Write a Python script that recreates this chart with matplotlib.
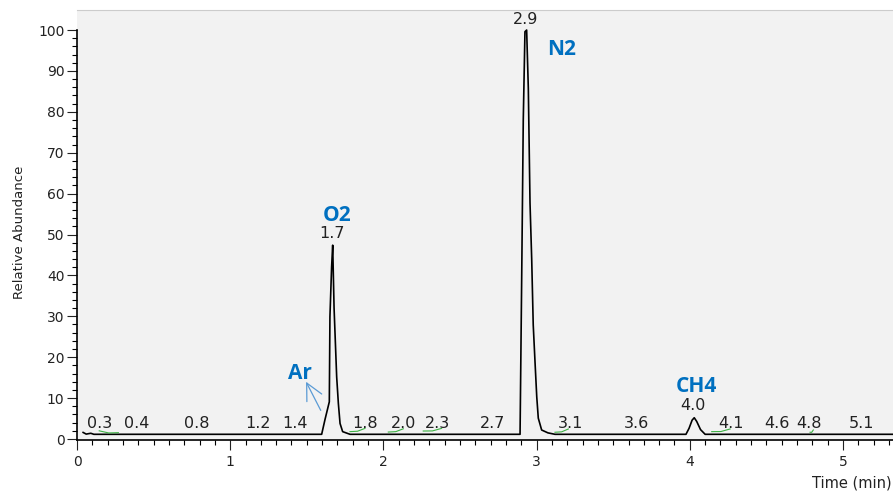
# Chromatogram: relative abundance vs time, with retention time labels

import matplotlib.pyplot as plt
from matplotlib.ticker import MultipleLocator

# trace (time in min, relative abundance)
time = [0.04, 0.06, 0.09, 0.11, 1.597, 1.619, 1.634, 1.647, 1.651, 1.662, 1.669,
        1.678, 1.695, 1.706, 1.717, 1.734, 1.782, 2.892, 2.903, 2.913, 2.924,
        2.935, 2.946, 2.957, 2.968, 2.978, 2.990, 3.001, 3.011, 3.033, 3.074,
        3.120, 3.975, 3.995, 4.015, 4.029, 4.045, 4.070, 4.100, 5.40]
abundance = [1.6, 1.2, 1.4, 1.15, 1.15, 4.8, 7.1, 9.1, 29.9, 42.1, 47.4,
             32.0, 15.2, 8.7, 3.8, 1.8, 1.15, 1.15, 40.6, 78.0, 99.6,
             100.0, 85.7, 57.7, 44.0, 27.9, 18.6, 10.3, 5.1, 2.2, 1.5,
             1.15, 1.15, 2.6, 4.6, 5.2, 4.3, 2.3, 1.15, 1.15]

# small retention time labels along the baseline
rt_pos = [0.145, 0.39, 0.78, 1.18, 1.42, 1.88, 2.13, 2.35, 2.71, 3.22,
          3.65, 4.27, 4.57, 4.78, 5.12]
rt_text = ["0.3", "0.4", "0.8", "1.2", "1.4", "1.8", "2.0", "2.3", "2.7", "3.1",
           "3.6", "4.1", "4.6", "4.8", "5.1"]

# peak apex labels
apex_pos = [1.665, 2.925, 4.02]
apex_y = [49.1, 101.5, 7.1]
apex_text = ["1.7", "2.9", "4.0"]

# compound names
cmp_pos = [1.456, 1.695, 3.164, 4.045]
cmp_y = [14.6, 53.2, 93.9, 11.6]
cmp_text = ["Ar", "O2", "N2", "CH4"]

# green integration marks (t0, y0, t1, y1)
marks_t0 = [0.145, 1.782, 2.032, 2.26, 3.12, 4.143, 4.785]
marks_y0 = [2.0, 1.8, 1.7, 1.95, 1.65, 1.8, 1.65]
marks_t1 = [0.27, 1.88, 2.13, 2.38, 3.207, 4.263, 4.806]
marks_y1 = [1.55, 2.6, 2.5, 2.6, 2.45, 2.45, 2.2]

fig = plt.figure(figsize=(8.93, 4.96), dpi=100)
ax = fig.add_axes([77/893, 1 - 440/496, (900 - 77)/893, 430/496])
ax.set_facecolor("#f2f2f2")

ax.plot(time, abundance, color="black", lw=1.2)

for a, b, c, d in zip(marks_t0, marks_y0, marks_t1, marks_y1):
    ax.plot([a, (a + c)/2, c], [b, (b + d)/2 - 0.3, d], color="#3cb043", lw=0.8)

for x, s in zip(rt_pos, rt_text):
    ax.text(x, 2.6, s, ha="center", va="baseline", fontsize=11.5, color="#222222")
for x, y, s in zip(apex_pos, apex_y, apex_text):
    ax.text(x, y, s, ha="center", va="baseline", fontsize=11.5, color="#222222")
for x, y, s in zip(cmp_pos, cmp_y, cmp_text):
    ax.text(x, y, s, ha="center", va="baseline", fontsize=15, fontweight="bold",
            family="Open Sans", color="#0070c0")

ax.annotate("", xy=(1.495, 14.0), xytext=(1.591, 7.0),
            arrowprops=dict(arrowstyle="->,head_length=0.6,head_width=0.3",
                            color="#5b9bd5", lw=0.9, mutation_scale=20,
                            shrinkA=0, shrinkB=0))

ax.set_xlim(0, (900 - 77)/153.2)
ax.set_ylim(-0.244, 104.9)
ax.xaxis.set_major_locator(MultipleLocator(1))
ax.xaxis.set_minor_locator(MultipleLocator(0.1))
ax.set_yticks(range(0, 101, 10))
ax.set_yticks(range(0, 101, 2), minor=True)
ax.tick_params(which="major", length=7, width=0.8, labelsize=10, pad=2, colors="#222222")
ax.tick_params(which="minor", length=3.6, width=0.8)
ax.tick_params(axis="x", which="major", pad=4)

for side in ["left", "bottom"]:
    ax.spines[side].set_linewidth(1.2)
ax.spines["left"].set_bounds(-0.244, 100)
ax.spines["top"].set_color("#cccccc")
ax.spines["right"].set_visible(False)

fig.text(20/893, 1 - 232/496, "Relative Abundance", rotation=90, ha="center",
         va="center", fontsize=9.5, color="#222222")
fig.text(892/893, 1 - 483/496, "Time (min)", ha="right", va="center",
         fontsize=10.5, color="#222222")

fig.savefig("out.png", dpi=100)
